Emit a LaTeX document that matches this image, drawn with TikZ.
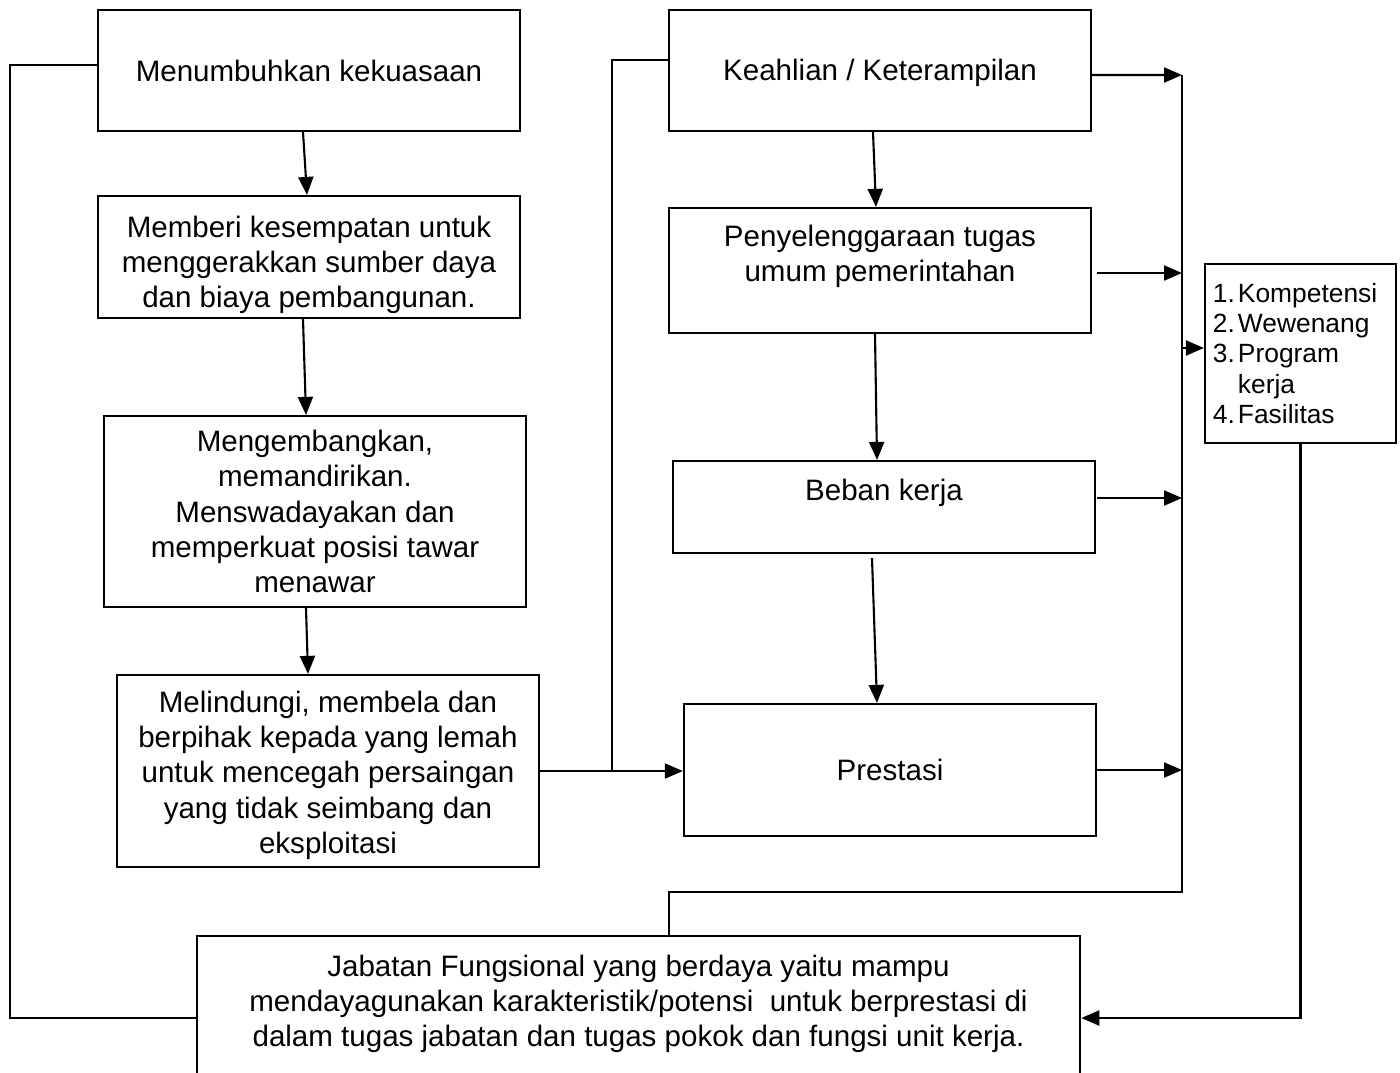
\documentclass[tikz,border=0pt]{standalone}
\usepackage{fontspec}
\setmainfont{Liberation Sans}
\usetikzlibrary{arrows.meta}
\begin{document}
\begin{tikzpicture}[x=0.01cm,y=-0.01cm,line width=0.6pt,
  box/.style={draw,line width=0.6pt,align=center,minimum width=4.22cm,inner sep=2pt,font=\fontsize{8.4}{10}\selectfont},
  arr/.style={-{Triangle[length=0.18cm,width=0.15cm]}}]
\useasboundingbox (0,0) rectangle (1400,1072);
\clip (0,0) rectangle (1400,1072);
\node[box,minimum height=1.21cm] (b1) at (309,70.5) {Menumbuhkan kekuasaan};
\node[box,inner sep=0pt,minimum height=1.22cm] (b2) at (309,257) {\rule{0pt}{0.37cm}Memberi kesempatan untuk\\menggerakkan sumber daya\\dan biaya pembangunan.};
\node[box,minimum height=1.91cm] (b3) at (315,511.5) {Mengembangkan,\\memandirikan.\\Menswadayakan dan\\memperkuat posisi tawar\\menawar};
\node[box,minimum height=1.92cm] (b4) at (328,771) {\rule{0pt}{0.30cm}Melindungi, membela dan\\berpihak kepada yang lemah\\untuk mencegah persaingan\\yang tidak seimbang dan\\eksploitasi};
\node[box,minimum height=1.21cm] (b5) at (880,70.5) {\rule{0pt}{0.27cm}Keahlian / Keterampilan};
\node[box,minimum height=1.25cm] (b6) at (880,270.5) {Penyelenggaraan tugas\\umum pemerintahan\\\mbox{}};
\node[box,minimum height=0.92cm] (b7) at (884,507) {Beban kerja\\\mbox{}};
\node[box,minimum width=4.12cm,minimum height=1.32cm] (b8) at (890,770) {Prestasi};
\node[draw,align=left,text width=1.75cm,inner sep=0.08cm,minimum height=1.79cm,font=\fontsize{7.5}{8.6}\selectfont] (list) at (1300.5,353.5)
 {\makebox[0.25cm][l]{1.}Kompetensi\\\makebox[0.25cm][l]{2.}Wewenang\\\makebox[0.25cm][l]{3.}Program\\\hspace*{0.25cm}kerja\\\makebox[0.25cm][l]{4.}Fasilitas};
\node[box,minimum width=8.83cm,minimum height=1.65cm] (bot) at (638.5,1018.5) {Jabatan Fungsional yang berdaya yaitu mampu\\mendayagunakan karakteristik/potensi\ \ untuk berprestasi di\\dalam tugas jabatan dan tugas pokok dan fungsi unit kerja.\\\mbox{}};
% left column arrows
\draw[arr] ([xshift=-0.06cm]b1.south) -- ([xshift=-0.02cm]b2.north);
\draw[arr] ([xshift=-0.06cm]b2.south) -- ([xshift=-0.09cm]b3.north);
\draw[arr] ([xshift=-0.09cm]b3.south) -- ([xshift=-0.20cm]b4.north);
% middle column arrows
\draw[arr] ([xshift=-0.07cm]b5.south) -- ([xshift=-0.04cm]b6.north);
\draw[arr] ([xshift=-0.05cm]b6.south) -- ([xshift=-0.07cm]b7.north);
\draw[arr] ([xshift=-0.12cm,yshift=-0.04cm]b7.south) -- ([xshift=-0.13cm]b8.north);
% b4 to prestasi and branch
\draw[arr] (b4.east) -- (b4.east -| b8.west);
\coordinate (br) at (612,771);
\coordinate (bt) at (612,60);
\draw (br) -- (bt) -- (bt -| b5.west);
% left loop
\coordinate (l1) at (10,65);
\coordinate (l2) at (10,1018);
\draw (l1 -| b1.west) -- (l1) -- (l2) -- (l2 -| bot.west);
% right collector
\coordinate (rt) at (1182,75);
\coordinate (rb) at (1182,892);
\coordinate (rj) at (669,892);
\draw[arr] ([yshift=-0.045cm]b5.east) -- (rt);
\draw[arr] ([xshift=0.05cm,yshift=-0.025cm]b6.east) -- ([yshift=-0.025cm]b6.east -| rt);
\draw[arr] ([xshift=0.01cm,yshift=0.09cm]b7.east) -- ([yshift=0.09cm]b7.east -| rt);
\draw[arr] (b8.east) -- (b8.east -| rt);
\draw (rt) -- (rb) -- (rj) -- (rj |- bot.north);
\draw[arr] ([yshift=0.055cm]list.west -| rt) -- ([yshift=0.055cm]list.west);
\coordinate (lc) at (1300.5,1018);
\draw[arr] (list.south) -- (lc) -- (lc -| bot.east);
\end{tikzpicture}
\end{document}
